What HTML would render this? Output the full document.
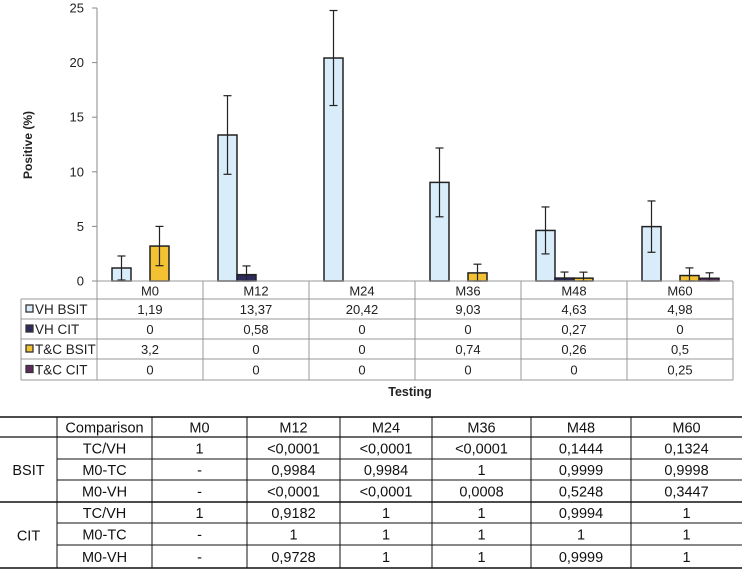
<!DOCTYPE html>
<html><head><meta charset="utf-8">
<style>
html,body{margin:0;padding:0;background:#fff;}
body{width:743px;height:572px;position:relative;overflow:hidden;font-family:"Liberation Sans",Arial,sans-serif;}
svg{position:absolute;left:0;top:0;}
</style></head>
<body>
<svg id="chart" width="743" height="572" font-family="Liberation Sans, Arial, sans-serif"></svg>
<script>
const categories=["M0","M12","M24","M36","M48","M60"];
const seriesNames=["VH BSIT","VH CIT","T&C BSIT","T&C CIT"];
const seriesColors=["#d8ecfa","#2d2b5e","#f3c232","#5e2a5e"];
const vhBsit=[1.19,13.37,20.42,9.03,4.63,4.98];
const vhCit=[0,0.58,0,0,0.27,0];
const tcBsit=[3.2,0,0,0.74,0.26,0.5];
const tcCit=[0,0,0,0,0,0.25];
const vhBsitErr=[1.1,3.6,4.35,3.15,2.15,2.35];
const vhCitErr=[0,0.8,0,0,0.55,0];
const tcBsitErr=[1.8,0,0,0.8,0.55,0.7];
const tcCitErr=[0,0,0,0,0,0.5];
const tableLabels=["1,19","13,37","20,42","9,03","4,63","4,98","0","0,58","0","0","0,27","0","3,2","0","0","0,74","0,26","0,5","0","0","0","0","0","0,25"];
const yTicks=[0,5,10,15,20,25];
const compHeader=["Comparison","M0","M12","M24","M36","M48","M60"];
const compGroups=["BSIT","CIT"];
const compRows=[
["TC/VH","1","<0,0001","<0,0001","<0,0001","0,1444","0,1324"],
["M0-TC","-","0,9984","0,9984","1","0,9999","0,9998"],
["M0-VH","-","<0,0001","<0,0001","0,0008","0,5248","0,3447"],
["TC/VH","1","0,9182","1","1","0,9994","1"],
["M0-TC","-","1","1","1","1","1"],
["M0-VH","-","0,9728","1","1","0,9999","1"]];

const svg=document.getElementById('chart');
const NS="http://www.w3.org/2000/svg";
function mk(tag,attrs,parent){const e=document.createElementNS(NS,tag);for(const k in attrs)e.setAttribute(k,attrs[k]);(parent||svg).appendChild(e);return e;}
function txt(s,x,y,attrs){const t=mk('text',Object.assign({x:x,y:y},attrs||{}));t.textContent=s;return t;}

const x0=97,catW=106,y0=281,pxPer=10.92;
function ys(v){return y0-v*pxPer;}
function xc(i){return x0+i*catW;}

let ax=mk('line',{x1:x0,y1:8,x2:x0,y2:y0,stroke:'#888','stroke-width':1});


yTicks.forEach(v=>{
  const tk=mk('line',{x1:x0-5,y1:ys(v),x2:x0,y2:ys(v),stroke:'#888'});
  
  
  const t=txt(String(v),84,ys(v)+4.5,{'font-size':13,'text-anchor':'end',fill:'#222'});
  
  
});
const yl=txt("Positive (%)",0,0,{'font-size':12,'font-weight':'bold','text-anchor':'middle',transform:'translate(32,145) rotate(-90)',fill:'#222'});



const series=[vhBsit,vhCit,tcBsit,tcCit];
const errs=[vhBsitErr,vhCitErr,tcBsitErr,tcCitErr];
const offs=[15,34,53,73],bw=19;
series.forEach((s,si)=>{
  s.forEach((v,i)=>{
    if(v<=0)return;
    const x=xc(i)+offs[si];
    const r=mk('rect',{x:x,y:ys(v),width:bw,height:v*pxPer,fill:seriesColors[si],stroke:'#222','stroke-width':1.5});
    
    
    const e=errs[si][i];
    if(e>0){
      const cx=x+bw/2,top=ys(v+e),bot=ys(Math.max(0,v-e));
      const g=mk('g',{stroke:'#222','stroke-width':1.2});
      
      
      mk('line',{x1:cx,y1:top,x2:cx,y2:bot},g);
      mk('line',{x1:cx-4,y1:top,x2:cx+4,y2:top},g);
      mk('line',{x1:cx-4,y1:bot,x2:cx+4,y2:bot},g);
    }
  });
});

const tL=21,rowY=[281,299,319,339,359,380];
const tg=mk('g',{stroke:'#999','stroke-width':1,fill:'none'});


mk('line',{x1:x0,y1:281,x2:x0+6*catW,y2:281},tg);
for(let r=1;r<rowY.length;r++)mk('line',{x1:tL,y1:rowY[r],x2:x0+6*catW,y2:rowY[r]},tg);
mk('line',{x1:tL,y1:299,x2:tL,y2:380},tg);
for(let i=0;i<=6;i++)mk('line',{x1:xc(i),y1:281,x2:xc(i),y2:380},tg);
categories.forEach((c,i)=>{
  const t=txt(c,xc(i)+catW/2,295.5,{'font-size':13,'text-anchor':'middle',fill:'#222'});
  
  
});
seriesNames.forEach((n,si)=>{
  const yc=(rowY[si+1]+rowY[si+2])/2;
  const k=mk('rect',{x:26,y:yc-4,width:7,height:7,fill:seriesColors[si],stroke:'#333','stroke-width':1.3});
  
  
  const t=txt(n,35,yc+5,{'font-size':13.5,fill:'#222'});
  
  
  categories.forEach((c,i)=>{
    const v=txt(tableLabels[si*6+i],xc(i)+catW/2,yc+5,{'font-size':13,'text-anchor':'middle',fill:'#222'});
    
    
  });
});
const xt=txt("Testing",410,396,{'font-size':12.5,'font-weight':'bold','text-anchor':'middle',fill:'#222'});



const cX=[0,57,152,247,340,432,531,631,742];
const cY=[417,437,459,480,502,523,545,568];
const cg=mk('g',{stroke:'#111','stroke-width':1,fill:'none'});


mk('line',{x1:0,y1:cY[0],x2:742,y2:cY[0],'stroke-width':1.6},cg);
mk('line',{x1:0,y1:cY[1],x2:742,y2:cY[1],'stroke-width':1.3},cg);
mk('line',{x1:0,y1:cY[4],x2:742,y2:cY[4],'stroke-width':1.6},cg);
mk('line',{x1:0,y1:cY[7],x2:742,y2:cY[7],'stroke-width':1.6},cg);
[2,3,5,6].forEach(r=>mk('line',{x1:cX[1],y1:cY[r],x2:742,y2:cY[r]},cg));
for(let i=1;i<cX.length-1;i++)mk('line',{x1:cX[i],y1:cY[0],x2:cX[i],y2:cY[7]},cg);
compHeader.forEach((h,i)=>{
  const t=txt(h,(cX[i+1]+cX[i+2])/2,cY[0]+15.5,{'font-size':14.5,'text-anchor':'middle',fill:'#111'});
  
  
});
compGroups.forEach((g,gi)=>{
  const t=txt(g,28.5,(cY[1+gi*3]+cY[4+gi*3])/2+5.5,{'font-size':14.5,'text-anchor':'middle',fill:'#111'});
  
  
});
compRows.forEach((row,r)=>{
  row.forEach((v,i)=>{
    const t=txt(v,(cX[i+1]+cX[i+2])/2,(cY[r+1]+cY[r+2])/2+5.5,{'font-size':14.5,'text-anchor':'middle',fill:'#111'});
    
    
  });
});
</script>
</body></html>
